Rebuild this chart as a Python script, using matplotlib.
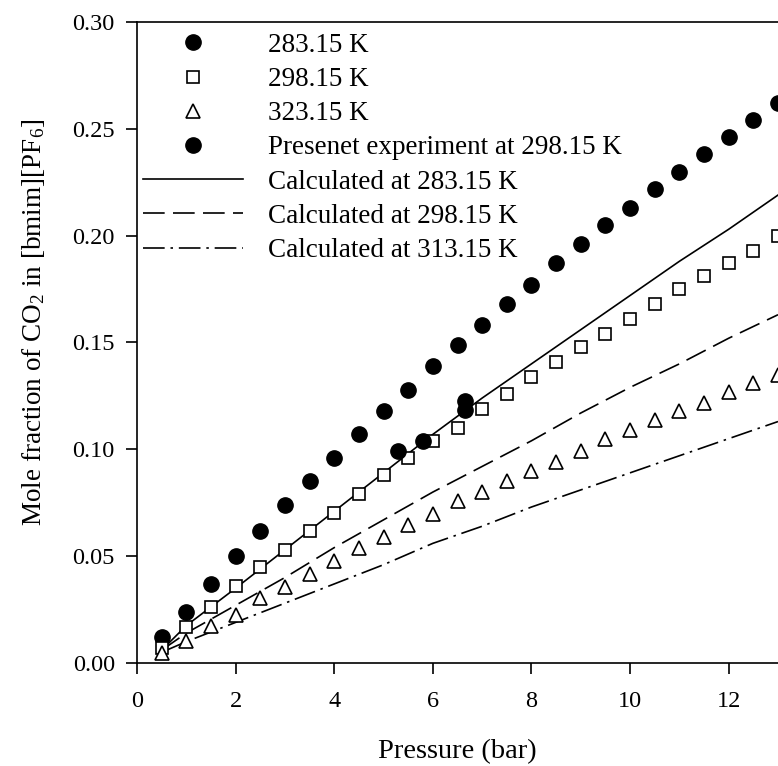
import matplotlib
matplotlib.use("Agg")
import matplotlib.pyplot as plt

plt.rcParams['font.family'] = ['Liberation Serif', 'DejaVu Serif']
plt.rcParams['mathtext.fontset'] = 'custom'
plt.rcParams['mathtext.rm'] = 'Liberation Serif'
plt.rcParams['mathtext.it'] = 'Liberation Serif:italic'

pressure = [0.5, 1.0, 1.5, 2.0, 2.5, 3.0, 3.5, 4.0, 4.5, 5.0, 5.5, 6.0, 6.5,
            7.0, 7.5, 8.0, 8.5, 9.0, 9.5, 10.0, 10.5, 11.0, 11.5, 12.0, 12.5, 13.0]
x_283 = [0.012, 0.024, 0.037, 0.050, 0.062, 0.074, 0.085, 0.096, 0.107, 0.118, 0.128, 0.139, 0.149,
         0.158, 0.168, 0.177, 0.187, 0.196, 0.205, 0.213, 0.222, 0.230, 0.238, 0.246, 0.254, 0.262]
x_298 = [0.007, 0.017, 0.026, 0.036, 0.045, 0.053, 0.062, 0.070, 0.079, 0.088, 0.096, 0.104, 0.110,
         0.119, 0.126, 0.134, 0.141, 0.148, 0.154, 0.161, 0.168, 0.175, 0.181, 0.187, 0.193, 0.200]
x_323 = [0.0045, 0.0104, 0.0175, 0.0225, 0.0306, 0.0354, 0.0416, 0.0477, 0.0537, 0.0588, 0.0646, 0.0696, 0.0760,
         0.080, 0.085, 0.090, 0.094, 0.099, 0.1047, 0.109, 0.1137, 0.118, 0.1218, 0.127, 0.131, 0.1348]

present_p = [5.29, 5.81, 6.65, 6.65]
present_x = [0.0992, 0.1040, 0.1226, 0.1184]

calc_p = [0.5, 1, 2, 3, 4, 5, 6, 7, 8, 9, 10, 11, 12, 13]
calc_283 = [0.006, 0.0175, 0.035, 0.053, 0.071, 0.089, 0.107, 0.124, 0.140, 0.156, 0.172, 0.188, 0.203, 0.219]
calc_298 = [0.006, 0.014, 0.027, 0.040, 0.054, 0.067, 0.080, 0.092, 0.104, 0.117, 0.129, 0.140, 0.152, 0.163]
calc_313 = [0.005, 0.010, 0.019, 0.028, 0.037, 0.046, 0.056, 0.064, 0.073, 0.081, 0.089, 0.097, 0.105, 0.113]

fig = plt.figure(figsize=(7.78, 7.66), dpi=100)
ax = fig.add_axes([137/778, (766-663)/766, 1 - 137/778, (663-22)/766])

ax.plot(pressure, x_283, 'o', color='black', markersize=11, label='283.15 K', zorder=3)
ax.plot(pressure, x_298, 's', mfc='white', mec='black', mew=1.2, markersize=9, label='298.15 K', zorder=3)
ax.plot(pressure, x_323, '^', mfc='white', mec='black', mew=1.2, markersize=10, label='323.15 K', zorder=3)
ax.plot(present_p, present_x, 'o', color='black', markersize=11, label='Presenet experiment at 298.15 K', zorder=4)
ax.plot(calc_p, calc_283, '-', color='black', lw=1.2, label='Calculated at 283.15 K', zorder=2)
ax.plot(calc_p, calc_298, color='black', lw=1.2, dashes=(13, 5), label='Calculated at 298.15 K', zorder=2)
ax.plot(calc_p, calc_313, color='black', lw=1.2, dashes=(13, 3.5, 1.5, 3.5), label='Calculated at 313.15 K', zorder=2)

ax.set_xlim(0, 13)
ax.set_ylim(0, 0.30)
ax.set_xticks([0, 2, 4, 6, 8, 10, 12])
ax.set_yticks([0.00, 0.05, 0.10, 0.15, 0.20, 0.25, 0.30])
ax.set_yticklabels(['0.00', '0.05', '0.10', '0.15', '0.20', '0.25', '0.30'])
ax.tick_params(direction='out', length=8, width=1.2, labelsize=17.5)
ax.tick_params(axis='y', pad=8)
ax.tick_params(axis='x', pad=12)
ax.spines['right'].set_visible(False)
for s in ['left', 'bottom', 'top']:
    ax.spines[s].set_linewidth(1.2)

ax.set_xlabel('Pressure (bar)', fontsize=20.5)
ax.xaxis.set_label_coords(0.5, -0.118)
ax.set_ylabel(r'Mole fraction of CO$_2$ in [bmim][PF$_6$]', fontsize=19.5)
ax.yaxis.set_label_coords(-0.14, 0.532)

ax.legend(loc='upper left', bbox_to_anchor=(-0.008, 1.0), frameon=False, fontsize=19.5,
          handlelength=3.7, handletextpad=0.94, labelspacing=0.34, borderaxespad=0.2,
          borderpad=0.2)

fig.savefig('out.png', dpi=100)
